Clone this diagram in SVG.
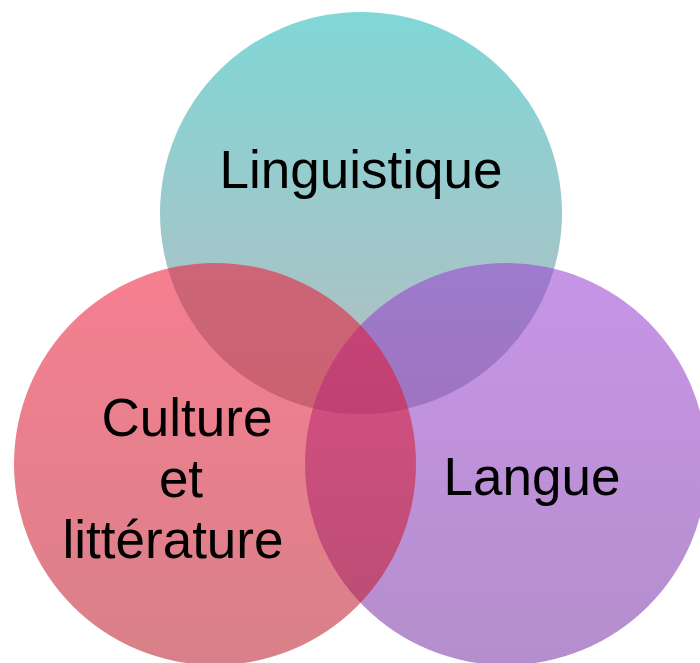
<svg xmlns="http://www.w3.org/2000/svg" width="700" height="663" viewBox="0 0 700 663">
  <defs>
    <linearGradient id="gTop" x1="0" y1="0" x2="0" y2="1">
      <stop offset="0" stop-color="#18b6b6"/>
      <stop offset="1" stop-color="#7a858c"/>
    </linearGradient>
    <linearGradient id="gLeft" x1="0" y1="0" x2="0" y2="1">
      <stop offset="0" stop-color="#ee1635"/>
      <stop offset="1" stop-color="#b81828"/>
    </linearGradient>
    <linearGradient id="gRight" x1="0" y1="0" x2="0" y2="1">
      <stop offset="0" stop-color="#993dd2"/>
      <stop offset="1" stop-color="#7732a2"/>
    </linearGradient>
  </defs>
  <style>
    .disc { fill-opacity: 0.55; stroke: none; }
    .label { font-family: "Liberation Sans", Arial, sans-serif; font-size: 53px; fill: #000; text-anchor: middle; }
  </style>
  <rect width="700" height="663" fill="#ffffff"/>
  <g id="linguistique">
    <circle class="disc" cx="361" cy="213" r="201" fill="url(#gTop)"/>
    <text class="label" x="361" y="188">Linguistique</text>
  </g>
  <g id="langue">
    <circle class="disc" cx="506" cy="464" r="201" fill="url(#gRight)"/>
    <text class="label" x="532" y="495">Langue</text>
  </g>
  <g id="culture">
    <circle class="disc" cx="215" cy="464" r="201" fill="url(#gLeft)"/>
    <text class="label" x="187" y="436">Culture</text>
    <text class="label" x="181" y="497">et</text>
    <text class="label" x="173" y="558">littérature</text>
  </g>
  <g id="connectors"/>
</svg>
